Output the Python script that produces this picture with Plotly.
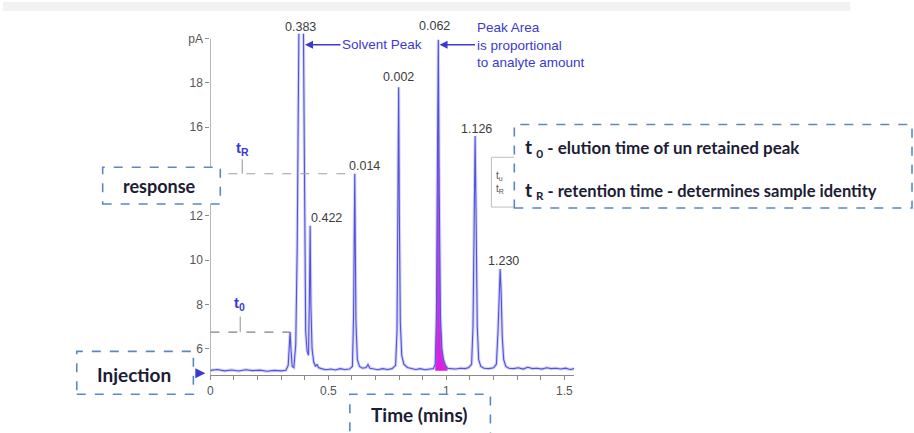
import plotly.graph_objects as go

# ---------------- data ----------------
time_min = [0.000, 0.030, 0.060, 0.090, 0.120, 0.150, 0.180, 0.210, 0.240, 0.270,
            0.300, 0.320, 0.330, 0.334, 0.338, 0.342, 0.347, 0.354, 0.362, 0.368,
            0.374, 0.378, 0.392, 0.396, 0.400, 0.404, 0.410, 0.416, 0.420, 0.423,
            0.426, 0.431, 0.438, 0.446, 0.452, 0.458, 0.470, 0.490, 0.510, 0.530,
            0.550, 0.570, 0.590, 0.602, 0.607, 0.612, 0.617, 0.623, 0.632, 0.645,
            0.660, 0.668, 0.676, 0.690, 0.710, 0.730, 0.750, 0.770, 0.785, 0.791,
            0.795, 0.798, 0.801, 0.805, 0.811, 0.820, 0.835, 0.850, 0.870, 0.890,
            0.910, 0.930, 0.945, 0.953, 0.958, 0.962, 0.966, 0.970, 0.975, 0.981,
            0.988, 0.996, 1.005, 1.020, 1.040, 1.060, 1.080, 1.095, 1.107, 1.113,
            1.118, 1.122, 1.126, 1.131, 1.137, 1.146, 1.160, 1.180, 1.200, 1.212,
            1.219, 1.224, 1.228, 1.232, 1.237, 1.243, 1.252, 1.265, 1.285, 1.305,
            1.325, 1.345, 1.365, 1.385, 1.405, 1.425, 1.445, 1.465, 1.485, 1.505,
            1.525, 1.541]
signal_pA = [5.02, 5.06, 5.00, 5.04, 4.99, 5.05, 5.01, 5.03, 4.98, 5.02,
             5.00, 5.03, 5.25, 6.00, 6.75, 5.90, 5.20, 5.15, 6.20, 10.50,
             22.00, 24.00, 24.00, 18.00, 10.00, 6.80, 5.90, 5.70, 8.50, 11.55,
             8.00, 6.00, 5.40, 5.20, 5.30, 5.15, 5.10, 5.05, 5.08, 5.04,
             5.10, 5.06, 5.08, 5.20, 7.50, 13.90, 7.20, 5.50, 5.20, 5.12,
             5.15, 5.28, 5.12, 5.08, 5.05, 5.10, 5.06, 5.10, 5.25, 6.80,
             11.50, 17.80, 12.00, 7.20, 5.70, 5.30, 5.15, 5.10, 5.06, 5.10,
             5.05, 5.08, 5.10, 5.30, 7.50, 14.00, 19.95, 13.00, 7.50, 6.00,
             5.50, 5.25, 5.12, 5.10, 5.08, 5.12, 5.10, 5.15, 5.30, 7.00,
             12.00, 15.60, 12.00, 7.00, 5.50, 5.20, 5.12, 5.10, 5.14, 5.30,
             6.80, 8.80, 9.60, 8.60, 6.50, 5.50, 5.20, 5.12, 5.10, 5.14,
             5.08, 5.16, 5.10, 5.12, 5.08, 5.14, 5.10, 5.12, 5.08, 5.12,
             5.06, 5.10]
assert len(time_min) == len(signal_pA)

baseline_pA = 5.0
area_start, area_end = 0.953, 1.005

peak_times = [0.383, 0.423, 0.612, 0.798, 0.966, 1.122, 1.228]
peak_heights = [20.0, 11.55, 13.9, 17.8, 19.95, 15.6, 9.6]
peak_labels = ["0.383", "0.422", "0.014", "0.002", "0.062", "1.126", "1.230"]

t0_time, t0_height = 0.338, 6.75
tR_time, tR_height = 0.612, 13.9

x_tickvals = [0.0, 0.1, 0.2, 0.3, 0.4, 0.5, 0.6, 0.7, 0.8, 0.9, 1.0, 1.1, 1.2, 1.3, 1.4, 1.5]
x_ticktext = ["0", "", "", "", "", "0.5", "", "", "", "", "1", "", "", "", "", "1.5"]
y_tickvals = [6, 8, 10, 12, 16, 18, 20]
y_ticktext = ["6", "8", "10", "12", "16", "18", "pA"]

# ---------------- geometry ----------------
W, H = 914, 433
X0_PX, X_SCALE = 208, 236.8      # px per minute
Y0_PX, Y_SCALE, Y_MIN = 375, 22.25, 4.8
Y_TOP_PX = 32
X_MAX = 1.541
Y_MAX = Y_MIN + (Y0_PX - Y_TOP_PX) / Y_SCALE


def px(x):
    return x / W


def py(y):
    return 1 - y / H


def dx(xp):
    return (xp - X0_PX) / X_SCALE


def dy(yp):
    return Y_MIN + (Y0_PX - yp) / Y_SCALE


LINE_BLUE = "#5252da"
TXT_BLUE = "#3a3ad0"
BOX_BLUE = "#5b87c5"
DARK = "#1c1c34"

fig = go.Figure()

# magenta peak area
area_t = [t for t in time_min if area_start <= t <= area_end]
area_y = [s for t, s in zip(time_min, signal_pA) if area_start <= t <= area_end]
fig.add_trace(go.Scatter(x=area_t, y=[baseline_pA] * len(area_t), mode="lines",
                         line=dict(width=0), hoverinfo="skip", showlegend=False))
fig.add_trace(go.Scatter(x=area_t, y=area_y, mode="lines", fill="tonexty",
                         fillcolor="#e01ee0", line=dict(width=0, color="#e01ee0"),
                         hoverinfo="skip", showlegend=False))

# chromatogram (soft halo + core)
fig.add_trace(go.Scatter(x=time_min, y=signal_pA, mode="lines",
                         line=dict(color="rgba(130,130,235,0.35)", width=3.2),
                         hoverinfo="skip", showlegend=False))
fig.add_trace(go.Scatter(x=time_min, y=signal_pA, mode="lines",
                         line=dict(color=LINE_BLUE, width=1.1),
                         showlegend=False))

shapes = []
annotations = []

# light top band
shapes.append(dict(type="rect", xref="paper", yref="paper", x0=0, x1=px(850),
                   y0=py(9), y1=1, fillcolor="#f2f2f2", line=dict(width=0), layer="below"))

# y axis line (drawn as shape so the scale label sits at its top)
shapes.append(dict(type="line", xref="x", yref="y", x0=0, x1=0, y0=Y_MIN, y1=20.0,
                   line=dict(color="#8a8a8a", width=1.2)))

# dashed guide lines
shapes.append(dict(type="line", xref="x", yref="y", x0=0, x1=tR_time, y0=tR_height, y1=tR_height,
                   line=dict(color="#a0a0a0", width=1.2, dash="dash")))
shapes.append(dict(type="line", xref="x", yref="y", x0=0, x1=t0_time, y0=t0_height, y1=t0_height,
                   line=dict(color="#808080", width=1.2, dash="dash")))
# small connector ticks to t labels
shapes.append(dict(type="line", xref="x", yref="y", x0=dx(240), x1=dx(240), y0=tR_height, y1=dy(158),
                   line=dict(color="#909090", width=1)))
shapes.append(dict(type="line", xref="x", yref="y", x0=dx(238), x1=dx(238), y0=t0_height, y1=dy(316),
                   line=dict(color="#909090", width=1)))

# t labels
annotations.append(dict(x=dx(240), y=dy(147), xref="x", yref="y", showarrow=False,
                        xanchor="center", yanchor="middle",
                        text="<b>t<sub>R</sub></b>", font=dict(family="Liberation Sans", size=15, color=TXT_BLUE)))
annotations.append(dict(x=dx(237), y=dy(303), xref="x", yref="y", showarrow=False,
                        xanchor="center", yanchor="middle",
                        text="<b>t<sub>0</sub></b>", font=dict(family="Liberation Sans", size=15, color=TXT_BLUE)))

# peak labels
label_shift = [(0, 12), (16, 8), (10, 8), (0, 10), (-4, 14), (1, 7), (3, 8)]
for t, h, lab, (xs, ys) in zip(peak_times, peak_heights, peak_labels, label_shift):
    annotations.append(dict(x=t, y=min(h, 20.0), xref="x", yref="y", text=lab, showarrow=False,
                            xshift=xs, yshift=ys, xanchor="center", yanchor="middle",
                            font=dict(family="Liberation Sans", size=12.5, color="#3c3c3c")))

# Solvent Peak arrow
annotations.append(dict(x=dx(303), y=dy(43), xref="x", yref="y", text="Solvent Peak",
                        showarrow=True, ax=77, ay=0, axref="pixel", ayref="pixel",
                        arrowhead=2, arrowsize=1, arrowwidth=1.6, arrowcolor=TXT_BLUE,
                        font=dict(family="Liberation Sans", size=13.5, color=TXT_BLUE)))
# Peak area arrow
annotations.append(dict(x=dx(438), y=dy(43), xref="x", yref="y",
                        text="Peak Area<br>is proportional<br>to analyte amount", align="left",
                        showarrow=True, ax=91, ay=0, axref="pixel", ayref="pixel",
                        arrowhead=2, arrowsize=1, arrowwidth=1.6, arrowcolor=TXT_BLUE,
                        font=dict(family="Liberation Sans", size=13.5, color=TXT_BLUE)))

# small partially hidden gray legend box
shapes.append(dict(type="rect", xref="paper", yref="paper", x0=px(490), x1=px(540), y0=py(206), y1=py(156),
                   fillcolor="white", line=dict(color="#bdbdbd", width=1)))
annotations.append(dict(x=px(493), y=py(181), xref="paper", yref="paper", xanchor="left", yanchor="middle",
                        showarrow=False, text="t<sub>u</sub><br>t<sub>R</sub>", align="left",
                        font=dict(family="Liberation Sans", size=10, color="#555")))


def dashed_box(x0, y0, x1, y1):
    shapes.append(dict(type="rect", xref="paper", yref="paper", x0=px(x0), x1=px(x1),
                       y0=py(y1), y1=py(y0), fillcolor="white",
                       line=dict(color=BOX_BLUE, width=1.6, dash="dash"), layer="above"))


def box_text(xc, yc, text, size, anchor="center"):
    annotations.append(dict(x=px(xc), y=py(yc), xref="paper", yref="paper", showarrow=False,
                            xanchor=anchor, yanchor="middle", text=text,
                            font=dict(family="Lato", size=size, color=DARK)))


dashed_box(100, 166, 218, 203)
box_text(157, 185, "<b>response</b>", 18)

dashed_box(74, 351, 191, 394)
box_text(131, 374, "<b>Injection</b>", 19)

dashed_box(348, 394, 489, 445)
box_text(418, 414, "<b>Time (mins)</b>", 19)

dashed_box(513, 123, 912, 207)
box_text(522, 147, "<b><span style='font-size:19px'>t</span> <sub>0</sub> - elution time of un retained peak</b>",
         17, anchor="left")
box_text(522, 189, "<b><span style='font-size:19px'>t</span> <sub>R</sub> - retention time - determines sample identity</b>",
         16.5, anchor="left")

# injection arrow
annotations.append(dict(x=px(203), y=py(373), xref="paper", yref="paper", text="",
                        showarrow=True, ax=-10, ay=0, axref="pixel", ayref="pixel",
                        arrowhead=2, arrowsize=1, arrowwidth=2, arrowcolor=TXT_BLUE))

fig.update_layout(
    width=W, height=H, autosize=False,
    margin=dict(l=0, r=0, t=0, b=0),
    paper_bgcolor="white", plot_bgcolor="white",
    showlegend=False,
    xaxis=dict(domain=[px(X0_PX), px(X0_PX + X_MAX * X_SCALE)], range=[0, X_MAX],
               showgrid=False, zeroline=False, showline=True, linecolor="#8a8a8a", linewidth=1.2,
               ticks="outside", ticklen=4, tickcolor="#8a8a8a",
               tickvals=x_tickvals, ticktext=x_ticktext,
               tickfont=dict(family="Liberation Sans", size=12, color="#555")),
    yaxis=dict(domain=[py(Y0_PX), py(Y_TOP_PX)], range=[Y_MIN, Y_MAX],
               showgrid=False, zeroline=False, showline=False,
               ticks="outside", ticklen=4, tickcolor="#8a8a8a",
               tickvals=y_tickvals, ticktext=y_ticktext,
               tickfont=dict(family="Liberation Sans", size=12, color="#555")),
    shapes=shapes,
    annotations=annotations,
)

fig.write_html("out.html", config={"displayModeBar": False},
               post_script="document.body.style.margin='0';document.body.style.overflow='hidden';")
